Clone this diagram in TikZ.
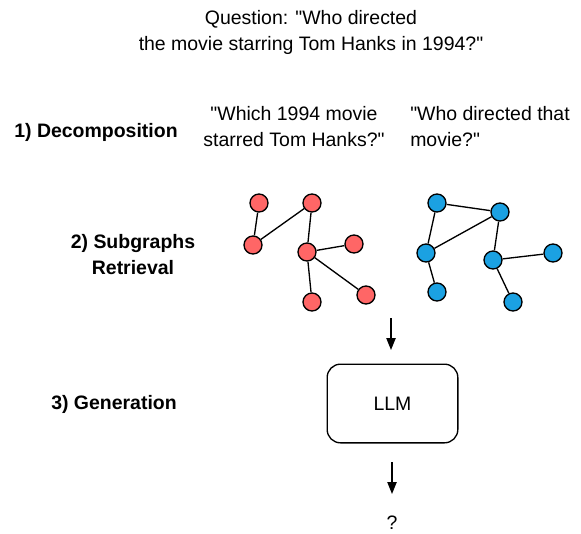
\documentclass[tikz,border=0pt]{standalone}
\usepackage{fontspec}
\setmainfont{Liberation Sans}[Ligatures=TeXOff]
\usetikzlibrary{arrows.meta}
\begin{document}
\begin{tikzpicture}[x=0.75pt,y=-0.75pt,
  txt/.style={font=\fontsize{14.6}{19.5}\selectfont, inner sep=0pt, align=center},
  lbl/.style={txt, font=\fontsize{14.6}{19.5}\selectfont\bfseries},
  rn/.style={circle, draw=black, line width=1pt, fill={rgb,255:red,255;green,102;blue,102}, minimum size=13.5pt, inner sep=0pt},
  bn/.style={circle, draw=black, line width=1pt, fill={rgb,255:red,27;green,161;blue,226}, minimum size=13.5pt, inner sep=0pt},
  edge/.style={draw=black, line width=1pt},
  arr/.style={draw=black, line width=1pt, -{Triangle[length=9pt,width=7pt]}}
]
\useasboundingbox (0,0) rectangle (581,533);
% question
\node[txt] (q) at (311,32) {Question: "Who directed\\the movie starring Tom Hanks in 1994?"};
% labels
\node[lbl] (l1) at (96,132) {1) Decomposition};
\node[lbl] (l2) at (133,255) {2) Subgraphs\\Retrieval};
\node[lbl] (l3) at (114,404) {3) Generation};
% sub-questions
\node[txt] (s1) at (294,127) {"Which 1994 movie\\starred Tom Hanks?"};
\node[txt, align=left, anchor=west] (s2) at (410,127) {"Who directed that\\movie?"};
% red graph
\node[rn] (ra) at (259,203) {};
\node[rn] (rb) at (312,203) {};
\node[rn] (rc) at (253,245) {};
\node[rn] (rd) at (307,252) {};
\node[rn] (re) at (354,244) {};
\node[rn] (rf) at (312,302) {};
\node[rn] (rg) at (366,295) {};
\draw[edge] (ra) -- (rc);
\draw[edge] (rc) -- (rb);
\draw[edge] (rb) -- (rd);
\draw[edge] (rd) -- (re);
\draw[edge] (rd) -- (rf);
\draw[edge] (rd) -- (rg);
% blue graph
\node[bn] (ba) at (437,203) {};
\node[bn] (bb) at (500,212) {};
\node[bn] (bc) at (426,253) {};
\node[bn] (bd) at (493,260) {};
\node[bn] (be) at (553,253) {};
\node[bn] (bf) at (437,292) {};
\node[bn] (bg) at (513,302) {};
\draw[edge] (ba) -- (bb);
\draw[edge] (ba) -- (bc);
\draw[edge] (bc) -- (bb);
\draw[edge] (bb) -- (bd);
\draw[edge] (bd) -- (be);
\draw[edge] (bc) -- (bf);
\draw[edge] (bd) -- (bg);
% arrows and LLM
\coordinate (a1s) at (391,318);
\coordinate (a1e) at (391,350);
\draw[arr] (a1s) -- (a1e);
\node[draw=black, line width=1pt, rounded corners=10pt, minimum width=98pt, minimum height=59pt, txt] (llm) at (392.5,403.5) {LLM};
\coordinate (a2s) at (392,462);
\coordinate (a2e) at (392,494);
\draw[arr] (a2s) -- (a2e);
\node[txt] (ans) at (392,523) {?};
\end{tikzpicture}
\end{document}
